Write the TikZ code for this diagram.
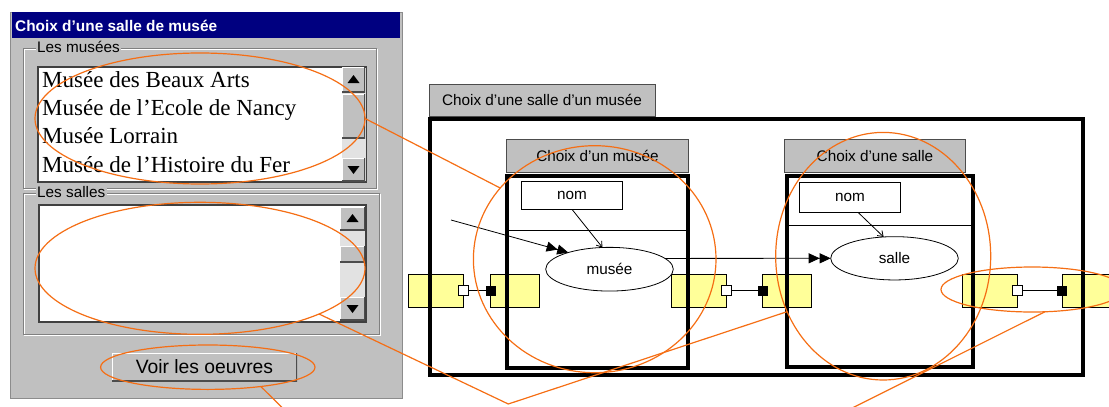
\documentclass[tikz,border=0pt]{standalone}
\usepackage{fontspec}
\setmainfont{Liberation Sans}
\newfontfamily\listfont{Liberation Serif}
\usetikzlibrary{shapes.geometric, arrows.meta, positioning}
\definecolor{wingray}{RGB}{192,192,192}
\definecolor{winshade}{RGB}{128,128,128}
\definecolor{titlenavy}{RGB}{0,0,128}
\definecolor{trackgray}{RGB}{226,226,226}
\definecolor{portyellow}{RGB}{255,255,153}
\definecolor{markorange}{RGB}{245,110,20}

\begin{document}
\begin{tikzpicture}[x=1pt, y=-1pt,
  font=\fontsize{15.3}{18}\selectfont,
  plain/.style={rectangle, inner sep=0pt, outer sep=0pt},
  raised/.style={plain, fill=wingray, path picture={
      \draw[white, line width=2.5pt] (path picture bounding box.south west) |- (path picture bounding box.north east);
      \draw[black!70, line width=2.5pt] (path picture bounding box.south west) -| (path picture bounding box.north east);}},
  sunken/.style={plain, fill=white, draw=black!75, line width=1.5pt},
  grpframe/.style={plain, draw=winshade, line width=1pt},
  grplabel/.style={anchor=west, fill=wingray, inner sep=1.5pt},
  listitem/.style={anchor=base west, inner sep=0pt, font=\listfont\fontsize{23}{28}\selectfont},
  tabbox/.style={plain, fill=wingray, draw=black!70, line width=0.8pt},
  boxframe/.style={plain, draw=black, line width=3.8pt},
  attrbox/.style={plain, fill=white, draw=black, line width=0.8pt},
  dataell/.style={ellipse, inner sep=0pt, outer sep=0pt, fill=white, draw=black, line width=0.8pt},
  portbox/.style={plain, fill=portyellow, draw=black, line width=0.8pt, minimum height=33pt},
  plugopen/.style={plain, fill=white, draw=black, line width=0.8pt, minimum size=10pt},
  plugfull/.style={plain, fill=black, minimum size=10pt},
  ring/.style={ellipse, inner sep=0pt, outer sep=0pt, draw=markorange, line width=1.2pt},
  flow/.style={-{Triangle[length=11pt,width=10pt]Triangle[length=11pt,width=10pt]}, line width=0.8pt},
  refarrow/.style={-{Straight Barb[length=5pt,width=7pt]}, line width=0.8pt},
  lead/.style={draw=markorange, line width=1.2pt}
]
  \useasboundingbox (0,0) rectangle (1109,407);
  \clip (0,0) rectangle (1109,407);

  % Window
  \node[plain, fill=wingray, draw=black!45, minimum width=392pt, minimum height=386pt] (win) at (206,205) {};
  \node[plain, fill=titlenavy, minimum width=388pt, minimum height=26pt] (titlebar) at (206,25) {};
  \node[anchor=west, inner sep=0pt, text=white, font=\bfseries\fontsize{15.4}{18}\selectfont] (title) at (15,25.5) {Choix d’une salle de musée};

  % Les musées
  \node[grpframe, draw=white, minimum width=353pt, minimum height=140pt] (grpMusW) at (200.5,119) {};
  \node[grpframe, minimum width=353pt, minimum height=140pt] (grpMus) at (199.5,118) {};
  \node[grplabel] (lblMus) at (35.5,47) {Les musées};
  \node[sunken, minimum width=328pt, minimum height=115pt] (listMus) at (202,124.5) {};
  \node[plain, fill=trackgray, minimum width=24pt, minimum height=113pt] (trackMus) at (353.5,124.5) {};
  \node[raised, minimum width=23pt, minimum height=25pt] (upMus) at (353.5,79.5) {};
  \node[raised, minimum width=23pt, minimum height=44pt] (thumbMus) at (353.5,116) {};
  \node[raised, minimum width=23pt, minimum height=23pt] (dnMus) at (353.5,169.5) {};
  \fill (upMus.center) ++(-6,3.5) -- ++(12,0) -- ++(-6,-8) -- cycle;
  \fill (dnMus.center) ++(-6,-3.5) -- ++(12,0) -- ++(-6,8) -- cycle;
  \node[listitem] (item1) at (42,87) {Musée des Beaux Arts};
  \node[listitem] (item2) at (42,115.5) {Musée de l’Ecole de Nancy};
  \node[listitem] (item3) at (42,143.5) {Musée Lorrain};
  \node[listitem] (item4) at (42,172) {Musée de l’Histoire du Fer};

  % Les salles
  \node[grpframe, draw=white, minimum width=356pt, minimum height=141pt] (grpSalW) at (202,264.5) {};
  \node[grpframe, minimum width=356pt, minimum height=141pt] (grpSal) at (201,263.5) {};
  \node[grplabel] (lblSal) at (35.5,192) {Les salles};
  \node[sunken, minimum width=327pt, minimum height=117pt] (listSal) at (202.5,263.5) {};
  \node[plain, fill=trackgray, minimum width=25pt, minimum height=114pt] (trackSal) at (352.5,263.5) {};
  \node[raised, minimum width=25pt, minimum height=23pt] (upSal) at (352.5,218.5) {};
  \node[raised, minimum width=25pt, minimum height=16pt] (thumbSal) at (352.5,254) {};
  \node[raised, minimum width=25pt, minimum height=23pt] (dnSal) at (352.5,308.5) {};
  \fill (upSal.center) ++(-6,3.5) -- ++(12,0) -- ++(-6,-8) -- cycle;
  \fill (dnSal.center) ++(-6,-3.5) -- ++(12,0) -- ++(-6,8) -- cycle;

  % Bouton
  \node[raised, minimum width=185pt, minimum height=28pt, font=\fontsize{19.3}{22}\selectfont] (btnVoir) at (204.5,367) {Voir les oeuvres};

  % Ports
  \node[portbox, minimum width=55pt] (portA) at (435.7,290.7) {};
  \node[portbox, minimum width=49pt] (portB) at (515.3,290.7) {};
  \node[portbox, minimum width=55pt] (portC) at (699.2,290.7) {};
  \node[portbox, minimum width=49pt] (portD) at (787,290.7) {};
  \node[portbox, minimum width=55pt] (portE) at (990.2,290.7) {};
  \node[portbox, minimum width=49pt] (portF) at (1086.4,290.7) {};
  \node[plugopen] (plugA) at (portA.east) {};
  \node[plugfull] (plugB) at (portB.west) {};
  \node[plugopen] (plugC) at (portC.east) {};
  \node[plugfull] (plugD) at (portD.west) {};
  \node[plugopen] (plugE) at (portE.east) {};
  \node[plugfull] (plugF) at (portF.west) {};
  \draw[line width=0.8pt] (plugA) -- (plugB);
  \draw[line width=0.8pt] (plugC) -- (plugD);
  \draw[line width=0.8pt] (plugE) -- (plugF);

  % Composants
  \node[tabbox, minimum width=226pt, minimum height=32pt] (tabAll) at (542,100) {Choix d’une salle d’un musée};
  \node[boxframe, minimum width=652.5pt, minimum height=255.5pt] (boxAll) at (756.5,247) {};
  \node[tabbox, minimum width=181.6pt, minimum height=33.4pt] (tabMus) at (597.5,156) {Choix d’un musée};
  \node[boxframe, minimum width=180.8pt, minimum height=192pt] (boxMus) at (597.6,271.7) {};
  \node[tabbox, minimum width=181.4pt, minimum height=33.4pt] (tabSal) at (875,156) {Choix d’une salle};
  \node[boxframe, minimum width=186pt, minimum height=191.5pt] (boxSal) at (880.2,271.5) {};
  \draw[line width=0.8pt] (507,230.7) -- (688,230.7);
  \draw[line width=0.8pt] (787,225) -- (973,225);

  \node[attrbox, minimum width=100.6pt, minimum height=28.3pt] (nomMus) at (572,195.2) {nom};
  \node[attrbox, minimum width=101.4pt, minimum height=29.6pt] (nomSal) at (850,197.5) {nom};
  \node[dataell, minimum width=127.6pt, minimum height=43.7pt] (musee) at (609.5,269.2) {musée};
  \node[dataell, minimum width=127.6pt, minimum height=43.3pt] (salle) at (894.5,258.3) {salle};
  \coordinate (inMus) at (451,220);

  \draw[flow] (inMus) -- (musee.158);
  \draw[flow] (musee.11) -- (salle.west);
  \draw[refarrow] (nomMus.south) -- (musee.108);
  \draw[refarrow] ([xshift=8pt]nomSal.south) -- (salle.117);

  % Correspondances
  \node[ring, minimum width=330pt, minimum height=131pt] (ringMus) at (200,118.5) {};
  \node[ring, minimum width=330pt, minimum height=132pt] (ringSal) at (200,268.3) {};
  \node[ring, minimum width=214.4pt, minimum height=44.4pt] (ringBtn) at (207.8,367.2) {};
  \node[ring, minimum width=242.6pt, minimum height=227pt] (ringCMus) at (594.7,259.2) {};
  \node[ring, minimum width=215pt, minimum height=247.6pt] (ringCSal) at (883.2,256.2) {};
  \node[ring, minimum width=182pt, minimum height=45pt] (ringPort) at (1032,289.5) {};
  \coordinate (vSal) at (508.3,404);
  \coordinate (vBtn) at (474,597);

  \draw[lead] (ringMus.east) -- (ringCMus.143);
  \draw[lead] (ringSal.-21) -- (vSal) -- (ringCSal.210);
  \draw[lead] (ringBtn.-20) -- (vBtn) -- (ringPort.-60);
\end{tikzpicture}
\end{document}
